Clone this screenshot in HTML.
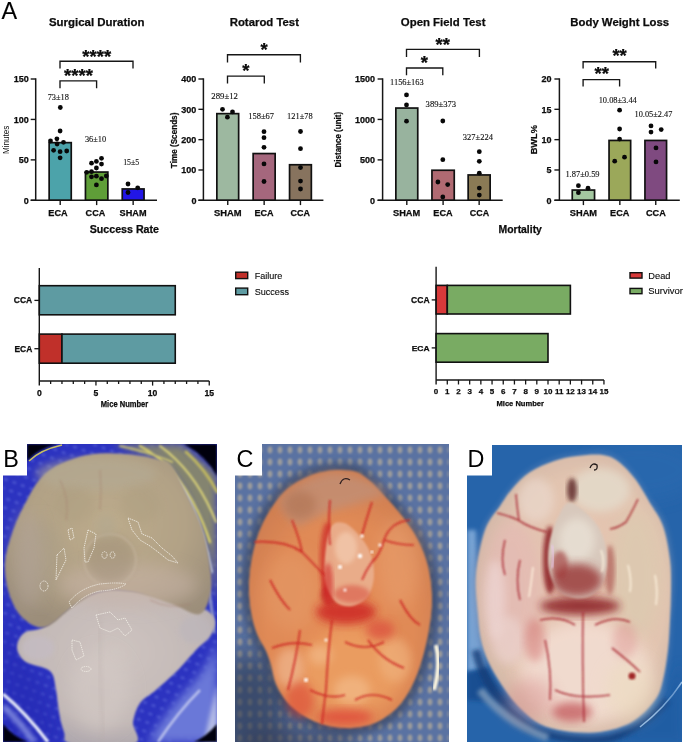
<!DOCTYPE html><html><head><meta charset="utf-8"><style>html,body{margin:0;padding:0;background:#fff;overflow:hidden}svg{display:block}</style></head><body>
<svg width="685" height="745" viewBox="0 0 685 745" style="opacity:0.999">
<rect width="685" height="745" fill="#fff"/>
<text x="1.40" y="18.80" font-size="23.4" font-weight="normal" text-anchor="start" font-family='"Liberation Sans", sans-serif' fill="#000" stroke="#000" stroke-width="0.12" >A</text>
<line x1="35.70" y1="78.30" x2="35.70" y2="200.30" stroke="#161616" stroke-width="1.5"/>
<line x1="30.70" y1="200.30" x2="157.00" y2="200.30" stroke="#161616" stroke-width="1.5"/>
<line x1="30.70" y1="200.30" x2="35.70" y2="200.30" stroke="#161616" stroke-width="1.4"/>
<text x="28.80" y="203.70" font-size="9" font-weight="bold" text-anchor="end" font-family='"Liberation Sans", sans-serif' fill="#0c0c0c" stroke="#0c0c0c" stroke-width="0.25" >0</text>
<line x1="30.70" y1="159.87" x2="35.70" y2="159.87" stroke="#161616" stroke-width="1.4"/>
<text x="28.80" y="163.27" font-size="9" font-weight="bold" text-anchor="end" font-family='"Liberation Sans", sans-serif' fill="#0c0c0c" stroke="#0c0c0c" stroke-width="0.25" >50</text>
<line x1="30.70" y1="119.43" x2="35.70" y2="119.43" stroke="#161616" stroke-width="1.4"/>
<text x="28.80" y="122.83" font-size="9" font-weight="bold" text-anchor="end" font-family='"Liberation Sans", sans-serif' fill="#0c0c0c" stroke="#0c0c0c" stroke-width="0.25" >100</text>
<line x1="30.70" y1="79.00" x2="35.70" y2="79.00" stroke="#161616" stroke-width="1.4"/>
<text x="28.80" y="82.40" font-size="9" font-weight="bold" text-anchor="end" font-family='"Liberation Sans", sans-serif' fill="#0c0c0c" stroke="#0c0c0c" stroke-width="0.25" >150</text>
<rect x="49.15" y="142.65" width="22.10" height="57.50" fill="#4ca3aa" stroke="#111" stroke-width="1.7"/>
<line x1="60.20" y1="200.30" x2="60.20" y2="205.10" stroke="#161616" stroke-width="1.4"/>
<rect x="85.45" y="172.05" width="22.40" height="28.10" fill="#5f9e38" stroke="#111" stroke-width="1.7"/>
<line x1="96.65" y1="200.30" x2="96.65" y2="205.10" stroke="#161616" stroke-width="1.4"/>
<rect x="122.25" y="188.95" width="21.80" height="11.20" fill="#2216e6" stroke="#111" stroke-width="1.7"/>
<line x1="133.15" y1="200.30" x2="133.15" y2="205.10" stroke="#161616" stroke-width="1.4"/>
<text x="48.30" y="215.80" font-size="9" font-weight="bold" text-anchor="start" font-family='"Liberation Sans", sans-serif' fill="#0c0c0c" stroke="#0c0c0c" stroke-width="0.25" textLength="19.30" lengthAdjust="spacingAndGlyphs" >ECA</text>
<text x="85.60" y="215.80" font-size="9" font-weight="bold" text-anchor="start" font-family='"Liberation Sans", sans-serif' fill="#0c0c0c" stroke="#0c0c0c" stroke-width="0.25" textLength="19.60" lengthAdjust="spacingAndGlyphs" >CCA</text>
<text x="119.60" y="215.80" font-size="9" font-weight="bold" text-anchor="start" font-family='"Liberation Sans", sans-serif' fill="#0c0c0c" stroke="#0c0c0c" stroke-width="0.25" textLength="26.90" lengthAdjust="spacingAndGlyphs" >SHAM</text>
<circle cx="60.30" cy="107.50" r="2.4" fill="#080808"/>
<circle cx="60.10" cy="131.00" r="2.4" fill="#080808"/>
<circle cx="56.90" cy="138.80" r="2.4" fill="#080808"/>
<circle cx="50.50" cy="141.00" r="2.4" fill="#080808"/>
<circle cx="57.10" cy="144.00" r="2.4" fill="#080808"/>
<circle cx="63.50" cy="142.30" r="2.4" fill="#080808"/>
<circle cx="53.60" cy="150.30" r="2.4" fill="#080808"/>
<circle cx="60.10" cy="151.70" r="2.4" fill="#080808"/>
<circle cx="66.70" cy="151.00" r="2.4" fill="#080808"/>
<circle cx="60.10" cy="157.80" r="2.4" fill="#080808"/>
<circle cx="101.50" cy="158.30" r="2.4" fill="#080808"/>
<circle cx="96.40" cy="161.40" r="2.4" fill="#080808"/>
<circle cx="91.50" cy="163.20" r="2.4" fill="#080808"/>
<circle cx="101.50" cy="164.10" r="2.4" fill="#080808"/>
<circle cx="96.40" cy="168.00" r="2.4" fill="#080808"/>
<circle cx="86.70" cy="172.30" r="2.4" fill="#080808"/>
<circle cx="91.50" cy="171.70" r="2.4" fill="#080808"/>
<circle cx="91.50" cy="176.80" r="2.4" fill="#080808"/>
<circle cx="96.40" cy="176.20" r="2.4" fill="#080808"/>
<circle cx="101.50" cy="178.70" r="2.4" fill="#080808"/>
<circle cx="106.30" cy="176.00" r="2.4" fill="#080808"/>
<circle cx="96.40" cy="184.90" r="2.4" fill="#080808"/>
<circle cx="128.00" cy="184.00" r="2.4" fill="#080808"/>
<circle cx="137.70" cy="187.80" r="2.4" fill="#080808"/>
<circle cx="128.00" cy="192.50" r="2.4" fill="#080808"/>
<text x="47.70" y="100.20" font-size="8.3" font-weight="normal" text-anchor="start" font-family='"Liberation Serif", serif' fill="#111" stroke="#111" stroke-width="0.12" textLength="21.20" lengthAdjust="spacingAndGlyphs" >73±18</text>
<text x="84.90" y="141.90" font-size="8.3" font-weight="normal" text-anchor="start" font-family='"Liberation Serif", serif' fill="#111" stroke="#111" stroke-width="0.12" textLength="21.30" lengthAdjust="spacingAndGlyphs" >36±10</text>
<text x="123.20" y="164.70" font-size="8.3" font-weight="normal" text-anchor="start" font-family='"Liberation Serif", serif' fill="#111" stroke="#111" stroke-width="0.12" textLength="16.00" lengthAdjust="spacingAndGlyphs" >15±5</text>
<text x="48.90" y="25.90" font-size="11.6" font-weight="bold" text-anchor="start" font-family='"Liberation Sans", sans-serif' fill="#0c0c0c" stroke="#0c0c0c" stroke-width="0.25" textLength="95.50" lengthAdjust="spacingAndGlyphs" >Surgical Duration</text>
<text transform="translate(9.20,139.90) rotate(-90)" font-size="9.0" font-weight="normal" text-anchor="middle" font-family='"Liberation Sans", sans-serif' fill="#0c0c0c"  textLength="28.40" lengthAdjust="spacingAndGlyphs">Minutes</text>
<path d="M60.00 88.20 V80.90 H96.60 V88.20" fill="none" stroke="#161616" stroke-width="1.35"/>
<text x="78.45" y="82.24" font-size="18.5" font-weight="bold" text-anchor="middle" font-family='"Liberation Sans", sans-serif' fill="#0c0c0c" stroke="#0c0c0c" stroke-width="0.25" >****</text>
<path d="M60.00 68.50 V61.20 H133.00 V68.50" fill="none" stroke="#161616" stroke-width="1.35"/>
<text x="96.70" y="62.54" font-size="18.5" font-weight="bold" text-anchor="middle" font-family='"Liberation Sans", sans-serif' fill="#0c0c0c" stroke="#0c0c0c" stroke-width="0.25" >****</text>
<line x1="203.40" y1="78.30" x2="203.40" y2="200.30" stroke="#161616" stroke-width="1.5"/>
<line x1="198.40" y1="200.30" x2="323.40" y2="200.30" stroke="#161616" stroke-width="1.5"/>
<line x1="198.40" y1="200.30" x2="203.40" y2="200.30" stroke="#161616" stroke-width="1.4"/>
<text x="196.40" y="203.70" font-size="9" font-weight="bold" text-anchor="end" font-family='"Liberation Sans", sans-serif' fill="#0c0c0c" stroke="#0c0c0c" stroke-width="0.25" >0</text>
<line x1="198.40" y1="169.98" x2="203.40" y2="169.98" stroke="#161616" stroke-width="1.4"/>
<text x="196.40" y="173.38" font-size="9" font-weight="bold" text-anchor="end" font-family='"Liberation Sans", sans-serif' fill="#0c0c0c" stroke="#0c0c0c" stroke-width="0.25" >100</text>
<line x1="198.40" y1="139.65" x2="203.40" y2="139.65" stroke="#161616" stroke-width="1.4"/>
<text x="196.40" y="143.05" font-size="9" font-weight="bold" text-anchor="end" font-family='"Liberation Sans", sans-serif' fill="#0c0c0c" stroke="#0c0c0c" stroke-width="0.25" >200</text>
<line x1="198.40" y1="109.33" x2="203.40" y2="109.33" stroke="#161616" stroke-width="1.4"/>
<text x="196.40" y="112.73" font-size="9" font-weight="bold" text-anchor="end" font-family='"Liberation Sans", sans-serif' fill="#0c0c0c" stroke="#0c0c0c" stroke-width="0.25" >300</text>
<line x1="198.40" y1="79.00" x2="203.40" y2="79.00" stroke="#161616" stroke-width="1.4"/>
<text x="196.40" y="82.40" font-size="9" font-weight="bold" text-anchor="end" font-family='"Liberation Sans", sans-serif' fill="#0c0c0c" stroke="#0c0c0c" stroke-width="0.25" >400</text>
<rect x="216.85" y="113.65" width="21.80" height="86.50" fill="#9db8a0" stroke="#111" stroke-width="1.7"/>
<line x1="227.75" y1="200.30" x2="227.75" y2="205.10" stroke="#161616" stroke-width="1.4"/>
<rect x="253.15" y="153.55" width="22.00" height="46.60" fill="#a5677d" stroke="#111" stroke-width="1.7"/>
<line x1="264.15" y1="200.30" x2="264.15" y2="205.10" stroke="#161616" stroke-width="1.4"/>
<rect x="289.55" y="164.75" width="21.80" height="35.40" fill="#87735e" stroke="#111" stroke-width="1.7"/>
<line x1="300.45" y1="200.30" x2="300.45" y2="205.10" stroke="#161616" stroke-width="1.4"/>
<text x="213.90" y="215.80" font-size="9" font-weight="bold" text-anchor="start" font-family='"Liberation Sans", sans-serif' fill="#0c0c0c" stroke="#0c0c0c" stroke-width="0.25" textLength="27.60" lengthAdjust="spacingAndGlyphs" >SHAM</text>
<text x="254.40" y="215.80" font-size="9" font-weight="bold" text-anchor="start" font-family='"Liberation Sans", sans-serif' fill="#0c0c0c" stroke="#0c0c0c" stroke-width="0.25" textLength="19.10" lengthAdjust="spacingAndGlyphs" >ECA</text>
<text x="290.60" y="215.80" font-size="9" font-weight="bold" text-anchor="start" font-family='"Liberation Sans", sans-serif' fill="#0c0c0c" stroke="#0c0c0c" stroke-width="0.25" textLength="19.40" lengthAdjust="spacingAndGlyphs" >CCA</text>
<circle cx="222.50" cy="109.30" r="2.4" fill="#080808"/>
<circle cx="232.50" cy="111.90" r="2.4" fill="#080808"/>
<circle cx="227.40" cy="117.20" r="2.4" fill="#080808"/>
<circle cx="264.00" cy="131.70" r="2.4" fill="#080808"/>
<circle cx="264.00" cy="137.70" r="2.4" fill="#080808"/>
<circle cx="264.00" cy="147.30" r="2.4" fill="#080808"/>
<circle cx="264.00" cy="163.90" r="2.4" fill="#080808"/>
<circle cx="264.00" cy="181.50" r="2.4" fill="#080808"/>
<circle cx="300.50" cy="131.50" r="2.4" fill="#080808"/>
<circle cx="300.50" cy="148.70" r="2.4" fill="#080808"/>
<circle cx="300.50" cy="167.60" r="2.4" fill="#080808"/>
<circle cx="300.50" cy="181.10" r="2.4" fill="#080808"/>
<circle cx="300.50" cy="189.00" r="2.4" fill="#080808"/>
<text x="211.30" y="98.80" font-size="8.3" font-weight="normal" text-anchor="start" font-family='"Liberation Serif", serif' fill="#111" stroke="#111" stroke-width="0.12" textLength="26.70" lengthAdjust="spacingAndGlyphs" >289±12</text>
<text x="248.20" y="118.90" font-size="8.3" font-weight="normal" text-anchor="start" font-family='"Liberation Serif", serif' fill="#111" stroke="#111" stroke-width="0.12" textLength="25.90" lengthAdjust="spacingAndGlyphs" >158±67</text>
<text x="287.10" y="118.90" font-size="8.3" font-weight="normal" text-anchor="start" font-family='"Liberation Serif", serif' fill="#111" stroke="#111" stroke-width="0.12" textLength="25.50" lengthAdjust="spacingAndGlyphs" >121±78</text>
<text x="229.70" y="25.90" font-size="11.6" font-weight="bold" text-anchor="start" font-family='"Liberation Sans", sans-serif' fill="#0c0c0c" stroke="#0c0c0c" stroke-width="0.25" textLength="69.30" lengthAdjust="spacingAndGlyphs" >Rotarod Test</text>
<text transform="translate(177.20,140.40) rotate(-90)" font-size="8.6" font-weight="bold" text-anchor="middle" font-family='"Liberation Sans", sans-serif' fill="#0c0c0c" stroke="#0c0c0c" stroke-width="0.22" textLength="55.50" lengthAdjust="spacingAndGlyphs">Time (Scends)</text>
<path d="M227.50 83.60 V76.10 H264.30 V83.60" fill="none" stroke="#161616" stroke-width="1.35"/>
<text x="245.90" y="77.24" font-size="18.5" font-weight="bold" text-anchor="middle" font-family='"Liberation Sans", sans-serif' fill="#0c0c0c" stroke="#0c0c0c" stroke-width="0.25" >*</text>
<path d="M227.50 62.60 V54.70 H300.40 V62.60" fill="none" stroke="#161616" stroke-width="1.35"/>
<text x="264.10" y="56.14" font-size="18.5" font-weight="bold" text-anchor="middle" font-family='"Liberation Sans", sans-serif' fill="#0c0c0c" stroke="#0c0c0c" stroke-width="0.25" >*</text>
<line x1="382.60" y1="78.30" x2="382.60" y2="200.30" stroke="#161616" stroke-width="1.5"/>
<line x1="377.60" y1="200.30" x2="502.70" y2="200.30" stroke="#161616" stroke-width="1.5"/>
<line x1="377.60" y1="200.30" x2="382.60" y2="200.30" stroke="#161616" stroke-width="1.4"/>
<text x="375.00" y="203.70" font-size="9" font-weight="bold" text-anchor="end" font-family='"Liberation Sans", sans-serif' fill="#0c0c0c" stroke="#0c0c0c" stroke-width="0.25" >0</text>
<line x1="377.60" y1="159.87" x2="382.60" y2="159.87" stroke="#161616" stroke-width="1.4"/>
<text x="375.00" y="163.27" font-size="9" font-weight="bold" text-anchor="end" font-family='"Liberation Sans", sans-serif' fill="#0c0c0c" stroke="#0c0c0c" stroke-width="0.25" >500</text>
<line x1="377.60" y1="119.43" x2="382.60" y2="119.43" stroke="#161616" stroke-width="1.4"/>
<text x="375.00" y="122.83" font-size="9" font-weight="bold" text-anchor="end" font-family='"Liberation Sans", sans-serif' fill="#0c0c0c" stroke="#0c0c0c" stroke-width="0.25" >1000</text>
<line x1="377.60" y1="79.00" x2="382.60" y2="79.00" stroke="#161616" stroke-width="1.4"/>
<text x="375.00" y="82.40" font-size="9" font-weight="bold" text-anchor="end" font-family='"Liberation Sans", sans-serif' fill="#0c0c0c" stroke="#0c0c0c" stroke-width="0.25" >1500</text>
<rect x="395.85" y="108.05" width="21.90" height="92.10" fill="#98b39e" stroke="#111" stroke-width="1.7"/>
<line x1="406.80" y1="200.30" x2="406.80" y2="205.10" stroke="#161616" stroke-width="1.4"/>
<rect x="431.95" y="170.25" width="22.30" height="29.90" fill="#b06a72" stroke="#111" stroke-width="1.7"/>
<line x1="443.10" y1="200.30" x2="443.10" y2="205.10" stroke="#161616" stroke-width="1.4"/>
<rect x="468.15" y="174.95" width="22.00" height="25.20" fill="#8a7a55" stroke="#111" stroke-width="1.7"/>
<line x1="479.15" y1="200.30" x2="479.15" y2="205.10" stroke="#161616" stroke-width="1.4"/>
<text x="393.00" y="215.80" font-size="9" font-weight="bold" text-anchor="start" font-family='"Liberation Sans", sans-serif' fill="#0c0c0c" stroke="#0c0c0c" stroke-width="0.25" textLength="27.20" lengthAdjust="spacingAndGlyphs" >SHAM</text>
<text x="433.30" y="215.80" font-size="9" font-weight="bold" text-anchor="start" font-family='"Liberation Sans", sans-serif' fill="#0c0c0c" stroke="#0c0c0c" stroke-width="0.25" textLength="19.30" lengthAdjust="spacingAndGlyphs" >ECA</text>
<text x="469.80" y="215.80" font-size="9" font-weight="bold" text-anchor="start" font-family='"Liberation Sans", sans-serif' fill="#0c0c0c" stroke="#0c0c0c" stroke-width="0.25" textLength="19.30" lengthAdjust="spacingAndGlyphs" >CCA</text>
<circle cx="406.50" cy="94.90" r="2.4" fill="#080808"/>
<circle cx="406.50" cy="104.90" r="2.4" fill="#080808"/>
<circle cx="406.50" cy="121.20" r="2.4" fill="#080808"/>
<circle cx="442.80" cy="121.00" r="2.4" fill="#080808"/>
<circle cx="442.80" cy="159.70" r="2.4" fill="#080808"/>
<circle cx="437.90" cy="182.00" r="2.4" fill="#080808"/>
<circle cx="447.70" cy="184.60" r="2.4" fill="#080808"/>
<circle cx="442.80" cy="196.90" r="2.4" fill="#080808"/>
<circle cx="479.30" cy="151.70" r="2.4" fill="#080808"/>
<circle cx="479.30" cy="161.30" r="2.4" fill="#080808"/>
<circle cx="479.30" cy="173.20" r="2.4" fill="#080808"/>
<circle cx="479.30" cy="188.10" r="2.4" fill="#080808"/>
<circle cx="479.30" cy="195.10" r="2.4" fill="#080808"/>
<text x="390.10" y="85.10" font-size="8.3" font-weight="normal" text-anchor="start" font-family='"Liberation Serif", serif' fill="#111" stroke="#111" stroke-width="0.12" textLength="33.60" lengthAdjust="spacingAndGlyphs" >1156±163</text>
<text x="425.60" y="106.60" font-size="8.3" font-weight="normal" text-anchor="start" font-family='"Liberation Serif", serif' fill="#111" stroke="#111" stroke-width="0.12" textLength="30.60" lengthAdjust="spacingAndGlyphs" >389±373</text>
<text x="462.80" y="140.30" font-size="8.3" font-weight="normal" text-anchor="start" font-family='"Liberation Serif", serif' fill="#111" stroke="#111" stroke-width="0.12" textLength="30.10" lengthAdjust="spacingAndGlyphs" >327±224</text>
<text x="400.80" y="25.90" font-size="11.6" font-weight="bold" text-anchor="start" font-family='"Liberation Sans", sans-serif' fill="#0c0c0c" stroke="#0c0c0c" stroke-width="0.25" textLength="84.70" lengthAdjust="spacingAndGlyphs" >Open Field Test</text>
<text transform="translate(340.90,139.70) rotate(-90)" font-size="8.9" font-weight="bold" text-anchor="middle" font-family='"Liberation Sans", sans-serif' fill="#0c0c0c" stroke="#0c0c0c" stroke-width="0.22" textLength="55.60" lengthAdjust="spacingAndGlyphs">Distance (unit)</text>
<path d="M406.50 75.30 V68.00 H442.80 V75.30" fill="none" stroke="#161616" stroke-width="1.35"/>
<text x="424.30" y="69.04" font-size="18.5" font-weight="bold" text-anchor="middle" font-family='"Liberation Sans", sans-serif' fill="#0c0c0c" stroke="#0c0c0c" stroke-width="0.25" >*</text>
<path d="M406.50 57.00 V49.40 H479.40 V57.00" fill="none" stroke="#161616" stroke-width="1.35"/>
<text x="442.80" y="50.94" font-size="18.5" font-weight="bold" text-anchor="middle" font-family='"Liberation Sans", sans-serif' fill="#0c0c0c" stroke="#0c0c0c" stroke-width="0.25" >**</text>
<line x1="559.40" y1="78.30" x2="559.40" y2="200.30" stroke="#161616" stroke-width="1.5"/>
<line x1="554.40" y1="200.30" x2="679.80" y2="200.30" stroke="#161616" stroke-width="1.5"/>
<line x1="554.40" y1="200.30" x2="559.40" y2="200.30" stroke="#161616" stroke-width="1.4"/>
<text x="551.60" y="203.70" font-size="9" font-weight="bold" text-anchor="end" font-family='"Liberation Sans", sans-serif' fill="#0c0c0c" stroke="#0c0c0c" stroke-width="0.25" >0</text>
<line x1="554.40" y1="169.98" x2="559.40" y2="169.98" stroke="#161616" stroke-width="1.4"/>
<text x="551.60" y="173.38" font-size="9" font-weight="bold" text-anchor="end" font-family='"Liberation Sans", sans-serif' fill="#0c0c0c" stroke="#0c0c0c" stroke-width="0.25" >5</text>
<line x1="554.40" y1="139.65" x2="559.40" y2="139.65" stroke="#161616" stroke-width="1.4"/>
<text x="551.60" y="143.05" font-size="9" font-weight="bold" text-anchor="end" font-family='"Liberation Sans", sans-serif' fill="#0c0c0c" stroke="#0c0c0c" stroke-width="0.25" >10</text>
<line x1="554.40" y1="109.33" x2="559.40" y2="109.33" stroke="#161616" stroke-width="1.4"/>
<text x="551.60" y="112.73" font-size="9" font-weight="bold" text-anchor="end" font-family='"Liberation Sans", sans-serif' fill="#0c0c0c" stroke="#0c0c0c" stroke-width="0.25" >15</text>
<line x1="554.40" y1="79.00" x2="559.40" y2="79.00" stroke="#161616" stroke-width="1.4"/>
<text x="551.60" y="82.40" font-size="9" font-weight="bold" text-anchor="end" font-family='"Liberation Sans", sans-serif' fill="#0c0c0c" stroke="#0c0c0c" stroke-width="0.25" >20</text>
<rect x="572.25" y="190.05" width="22.30" height="10.10" fill="#a3c7a0" stroke="#111" stroke-width="1.7"/>
<line x1="583.40" y1="200.30" x2="583.40" y2="205.10" stroke="#161616" stroke-width="1.4"/>
<rect x="609.05" y="140.45" width="21.60" height="59.70" fill="#9ba85a" stroke="#111" stroke-width="1.7"/>
<line x1="619.85" y1="200.30" x2="619.85" y2="205.10" stroke="#161616" stroke-width="1.4"/>
<rect x="644.95" y="140.45" width="21.60" height="59.70" fill="#7f4a80" stroke="#111" stroke-width="1.7"/>
<line x1="655.75" y1="200.30" x2="655.75" y2="205.10" stroke="#161616" stroke-width="1.4"/>
<text x="569.80" y="215.80" font-size="9" font-weight="bold" text-anchor="start" font-family='"Liberation Sans", sans-serif' fill="#0c0c0c" stroke="#0c0c0c" stroke-width="0.25" textLength="27.20" lengthAdjust="spacingAndGlyphs" >SHAM</text>
<text x="610.10" y="215.80" font-size="9" font-weight="bold" text-anchor="start" font-family='"Liberation Sans", sans-serif' fill="#0c0c0c" stroke="#0c0c0c" stroke-width="0.25" textLength="19.30" lengthAdjust="spacingAndGlyphs" >ECA</text>
<text x="646.00" y="215.80" font-size="9" font-weight="bold" text-anchor="start" font-family='"Liberation Sans", sans-serif' fill="#0c0c0c" stroke="#0c0c0c" stroke-width="0.25" textLength="19.80" lengthAdjust="spacingAndGlyphs" >CCA</text>
<circle cx="578.40" cy="185.70" r="2.4" fill="#080808"/>
<circle cx="588.00" cy="188.20" r="2.4" fill="#080808"/>
<circle cx="578.40" cy="192.70" r="2.4" fill="#080808"/>
<circle cx="619.60" cy="110.20" r="2.4" fill="#080808"/>
<circle cx="619.60" cy="129.00" r="2.4" fill="#080808"/>
<circle cx="619.60" cy="139.10" r="2.4" fill="#080808"/>
<circle cx="614.70" cy="161.20" r="2.4" fill="#080808"/>
<circle cx="624.50" cy="157.20" r="2.4" fill="#080808"/>
<circle cx="651.00" cy="125.90" r="2.4" fill="#080808"/>
<circle cx="661.20" cy="129.60" r="2.4" fill="#080808"/>
<circle cx="651.00" cy="132.10" r="2.4" fill="#080808"/>
<circle cx="656.00" cy="147.90" r="2.4" fill="#080808"/>
<circle cx="656.00" cy="161.90" r="2.4" fill="#080808"/>
<text x="565.40" y="177.00" font-size="8.3" font-weight="normal" text-anchor="start" font-family='"Liberation Serif", serif' fill="#111" stroke="#111" stroke-width="0.12" textLength="34.20" lengthAdjust="spacingAndGlyphs" >1.87±0.59</text>
<text x="598.70" y="102.50" font-size="8.3" font-weight="normal" text-anchor="start" font-family='"Liberation Serif", serif' fill="#111" stroke="#111" stroke-width="0.12" textLength="38.10" lengthAdjust="spacingAndGlyphs" >10.08±3.44</text>
<text x="634.50" y="116.90" font-size="8.3" font-weight="normal" text-anchor="start" font-family='"Liberation Serif", serif' fill="#111" stroke="#111" stroke-width="0.12" textLength="37.80" lengthAdjust="spacingAndGlyphs" >10.05±2.47</text>
<text x="570.30" y="25.90" font-size="11.6" font-weight="bold" text-anchor="start" font-family='"Liberation Sans", sans-serif' fill="#0c0c0c" stroke="#0c0c0c" stroke-width="0.25" textLength="98.90" lengthAdjust="spacingAndGlyphs" >Body Weight Loss</text>
<text transform="translate(537.00,139.70) rotate(-90)" font-size="9.4" font-weight="bold" text-anchor="middle" font-family='"Liberation Sans", sans-serif' fill="#0c0c0c" stroke="#0c0c0c" stroke-width="0.22" textLength="29.30" lengthAdjust="spacingAndGlyphs">BWL%</text>
<path d="M583.10 86.40 V79.60 H619.60 V86.40" fill="none" stroke="#161616" stroke-width="1.35"/>
<text x="601.70" y="79.94" font-size="18.5" font-weight="bold" text-anchor="middle" font-family='"Liberation Sans", sans-serif' fill="#0c0c0c" stroke="#0c0c0c" stroke-width="0.25" >**</text>
<path d="M583.10 68.50 V61.70 H655.70 V68.50" fill="none" stroke="#161616" stroke-width="1.35"/>
<text x="619.60" y="61.94" font-size="18.5" font-weight="bold" text-anchor="middle" font-family='"Liberation Sans", sans-serif' fill="#0c0c0c" stroke="#0c0c0c" stroke-width="0.25" >**</text>
<line x1="39.30" y1="268.00" x2="39.30" y2="385.60" stroke="#161616" stroke-width="1.4"/>
<line x1="39.30" y1="381.00" x2="209.25" y2="381.00" stroke="#161616" stroke-width="1.5"/>
<text x="39.30" y="395.80" font-size="8.6" font-weight="bold" text-anchor="middle" font-family='"Liberation Sans", sans-serif' fill="#0c0c0c" stroke="#0c0c0c" stroke-width="0.25" >0</text>
<line x1="50.63" y1="381.00" x2="50.63" y2="384.00" stroke="#161616" stroke-width="1.3"/>
<line x1="61.96" y1="381.00" x2="61.96" y2="384.00" stroke="#161616" stroke-width="1.3"/>
<line x1="73.29" y1="381.00" x2="73.29" y2="384.00" stroke="#161616" stroke-width="1.3"/>
<line x1="84.62" y1="381.00" x2="84.62" y2="384.00" stroke="#161616" stroke-width="1.3"/>
<line x1="95.95" y1="381.00" x2="95.95" y2="385.60" stroke="#161616" stroke-width="1.3"/>
<text x="95.95" y="395.80" font-size="8.6" font-weight="bold" text-anchor="middle" font-family='"Liberation Sans", sans-serif' fill="#0c0c0c" stroke="#0c0c0c" stroke-width="0.25" >5</text>
<line x1="107.28" y1="381.00" x2="107.28" y2="384.00" stroke="#161616" stroke-width="1.3"/>
<line x1="118.61" y1="381.00" x2="118.61" y2="384.00" stroke="#161616" stroke-width="1.3"/>
<line x1="129.94" y1="381.00" x2="129.94" y2="384.00" stroke="#161616" stroke-width="1.3"/>
<line x1="141.27" y1="381.00" x2="141.27" y2="384.00" stroke="#161616" stroke-width="1.3"/>
<line x1="152.60" y1="381.00" x2="152.60" y2="385.60" stroke="#161616" stroke-width="1.3"/>
<text x="152.60" y="395.80" font-size="8.6" font-weight="bold" text-anchor="middle" font-family='"Liberation Sans", sans-serif' fill="#0c0c0c" stroke="#0c0c0c" stroke-width="0.25" >10</text>
<line x1="163.93" y1="381.00" x2="163.93" y2="384.00" stroke="#161616" stroke-width="1.3"/>
<line x1="175.26" y1="381.00" x2="175.26" y2="384.00" stroke="#161616" stroke-width="1.3"/>
<line x1="186.59" y1="381.00" x2="186.59" y2="384.00" stroke="#161616" stroke-width="1.3"/>
<line x1="197.92" y1="381.00" x2="197.92" y2="384.00" stroke="#161616" stroke-width="1.3"/>
<line x1="209.25" y1="381.00" x2="209.25" y2="385.60" stroke="#161616" stroke-width="1.3"/>
<text x="209.25" y="395.80" font-size="8.6" font-weight="bold" text-anchor="middle" font-family='"Liberation Sans", sans-serif' fill="#0c0c0c" stroke="#0c0c0c" stroke-width="0.25" >15</text>
<rect x="39.30" y="285.70" width="135.96" height="29.10" fill="#5e9ba2" stroke="#111" stroke-width="1.6"/>
<rect x="39.30" y="334.10" width="22.66" height="29.10" fill="#c0302a" stroke="#111" stroke-width="1.6"/>
<rect x="61.96" y="334.10" width="113.30" height="29.10" fill="#5e9ba2" stroke="#111" stroke-width="1.6"/>
<line x1="34.40" y1="300.40" x2="39.30" y2="300.40" stroke="#161616" stroke-width="1.3"/>
<text x="13.80" y="303.40" font-size="8.367626886145404" font-weight="bold" text-anchor="start" font-family='"Liberation Sans", sans-serif' fill="#0c0c0c" stroke="#0c0c0c" stroke-width="0.25" textLength="18.50" lengthAdjust="spacingAndGlyphs" >CCA</text>
<line x1="34.40" y1="348.70" x2="39.30" y2="348.70" stroke="#161616" stroke-width="1.3"/>
<text x="14.40" y="351.90" font-size="8.367626886145404" font-weight="bold" text-anchor="start" font-family='"Liberation Sans", sans-serif' fill="#0c0c0c" stroke="#0c0c0c" stroke-width="0.25" textLength="17.90" lengthAdjust="spacingAndGlyphs" >ECA</text>
<text x="89.70" y="232.90" font-size="10.219478737997257" font-weight="bold" text-anchor="start" font-family='"Liberation Sans", sans-serif' fill="#0c0c0c" stroke="#0c0c0c" stroke-width="0.25" textLength="69.30" lengthAdjust="spacingAndGlyphs" >Success Rate</text>
<text x="100.80" y="406.80" font-size="8.23045267489712" font-weight="bold" text-anchor="start" font-family='"Liberation Sans", sans-serif' fill="#0c0c0c" stroke="#0c0c0c" stroke-width="0.25" textLength="47.40" lengthAdjust="spacingAndGlyphs" >Mice Number</text>
<line x1="436.10" y1="266.70" x2="436.10" y2="384.50" stroke="#161616" stroke-width="1.4"/>
<line x1="436.10" y1="379.90" x2="603.95" y2="379.90" stroke="#161616" stroke-width="1.5"/>
<text x="436.10" y="394.40" font-size="8.0" font-weight="bold" text-anchor="middle" font-family='"Liberation Sans", sans-serif' fill="#0c0c0c" stroke="#0c0c0c" stroke-width="0.25" >0</text>
<line x1="447.29" y1="379.90" x2="447.29" y2="384.50" stroke="#161616" stroke-width="1.3"/>
<text x="447.29" y="394.40" font-size="8.0" font-weight="bold" text-anchor="middle" font-family='"Liberation Sans", sans-serif' fill="#0c0c0c" stroke="#0c0c0c" stroke-width="0.25" >1</text>
<line x1="458.48" y1="379.90" x2="458.48" y2="384.50" stroke="#161616" stroke-width="1.3"/>
<text x="458.48" y="394.40" font-size="8.0" font-weight="bold" text-anchor="middle" font-family='"Liberation Sans", sans-serif' fill="#0c0c0c" stroke="#0c0c0c" stroke-width="0.25" >2</text>
<line x1="469.67" y1="379.90" x2="469.67" y2="384.50" stroke="#161616" stroke-width="1.3"/>
<text x="469.67" y="394.40" font-size="8.0" font-weight="bold" text-anchor="middle" font-family='"Liberation Sans", sans-serif' fill="#0c0c0c" stroke="#0c0c0c" stroke-width="0.25" >3</text>
<line x1="480.86" y1="379.90" x2="480.86" y2="384.50" stroke="#161616" stroke-width="1.3"/>
<text x="480.86" y="394.40" font-size="8.0" font-weight="bold" text-anchor="middle" font-family='"Liberation Sans", sans-serif' fill="#0c0c0c" stroke="#0c0c0c" stroke-width="0.25" >4</text>
<line x1="492.05" y1="379.90" x2="492.05" y2="384.50" stroke="#161616" stroke-width="1.3"/>
<text x="492.05" y="394.40" font-size="8.0" font-weight="bold" text-anchor="middle" font-family='"Liberation Sans", sans-serif' fill="#0c0c0c" stroke="#0c0c0c" stroke-width="0.25" >5</text>
<line x1="503.24" y1="379.90" x2="503.24" y2="384.50" stroke="#161616" stroke-width="1.3"/>
<text x="503.24" y="394.40" font-size="8.0" font-weight="bold" text-anchor="middle" font-family='"Liberation Sans", sans-serif' fill="#0c0c0c" stroke="#0c0c0c" stroke-width="0.25" >6</text>
<line x1="514.43" y1="379.90" x2="514.43" y2="384.50" stroke="#161616" stroke-width="1.3"/>
<text x="514.43" y="394.40" font-size="8.0" font-weight="bold" text-anchor="middle" font-family='"Liberation Sans", sans-serif' fill="#0c0c0c" stroke="#0c0c0c" stroke-width="0.25" >7</text>
<line x1="525.62" y1="379.90" x2="525.62" y2="384.50" stroke="#161616" stroke-width="1.3"/>
<text x="525.62" y="394.40" font-size="8.0" font-weight="bold" text-anchor="middle" font-family='"Liberation Sans", sans-serif' fill="#0c0c0c" stroke="#0c0c0c" stroke-width="0.25" >8</text>
<line x1="536.81" y1="379.90" x2="536.81" y2="384.50" stroke="#161616" stroke-width="1.3"/>
<text x="536.81" y="394.40" font-size="8.0" font-weight="bold" text-anchor="middle" font-family='"Liberation Sans", sans-serif' fill="#0c0c0c" stroke="#0c0c0c" stroke-width="0.25" >9</text>
<line x1="548.00" y1="379.90" x2="548.00" y2="384.50" stroke="#161616" stroke-width="1.3"/>
<text x="548.00" y="394.40" font-size="8.0" font-weight="bold" text-anchor="middle" font-family='"Liberation Sans", sans-serif' fill="#0c0c0c" stroke="#0c0c0c" stroke-width="0.25" >10</text>
<line x1="559.19" y1="379.90" x2="559.19" y2="384.50" stroke="#161616" stroke-width="1.3"/>
<text x="559.19" y="394.40" font-size="8.0" font-weight="bold" text-anchor="middle" font-family='"Liberation Sans", sans-serif' fill="#0c0c0c" stroke="#0c0c0c" stroke-width="0.25" >11</text>
<line x1="570.38" y1="379.90" x2="570.38" y2="384.50" stroke="#161616" stroke-width="1.3"/>
<text x="570.38" y="394.40" font-size="8.0" font-weight="bold" text-anchor="middle" font-family='"Liberation Sans", sans-serif' fill="#0c0c0c" stroke="#0c0c0c" stroke-width="0.25" >12</text>
<line x1="581.57" y1="379.90" x2="581.57" y2="384.50" stroke="#161616" stroke-width="1.3"/>
<text x="581.57" y="394.40" font-size="8.0" font-weight="bold" text-anchor="middle" font-family='"Liberation Sans", sans-serif' fill="#0c0c0c" stroke="#0c0c0c" stroke-width="0.25" >13</text>
<line x1="592.76" y1="379.90" x2="592.76" y2="384.50" stroke="#161616" stroke-width="1.3"/>
<text x="592.76" y="394.40" font-size="8.0" font-weight="bold" text-anchor="middle" font-family='"Liberation Sans", sans-serif' fill="#0c0c0c" stroke="#0c0c0c" stroke-width="0.25" >14</text>
<line x1="603.95" y1="379.90" x2="603.95" y2="384.50" stroke="#161616" stroke-width="1.3"/>
<text x="603.95" y="394.40" font-size="8.0" font-weight="bold" text-anchor="middle" font-family='"Liberation Sans", sans-serif' fill="#0c0c0c" stroke="#0c0c0c" stroke-width="0.25" >15</text>
<rect x="436.10" y="285.40" width="11.19" height="28.60" fill="#d83a3a" stroke="#111" stroke-width="1.6"/>
<rect x="447.29" y="285.40" width="123.09" height="28.60" fill="#79ab63" stroke="#111" stroke-width="1.6"/>
<rect x="436.10" y="333.60" width="111.90" height="28.60" fill="#79ab63" stroke="#111" stroke-width="1.6"/>
<line x1="431.70" y1="299.90" x2="436.10" y2="299.90" stroke="#161616" stroke-width="1.3"/>
<text x="411.10" y="302.90" font-size="8.23045267489712" font-weight="bold" text-anchor="start" font-family='"Liberation Sans", sans-serif' fill="#0c0c0c" stroke="#0c0c0c" stroke-width="0.25" textLength="18.50" lengthAdjust="spacingAndGlyphs" >CCA</text>
<line x1="431.70" y1="347.90" x2="436.10" y2="347.90" stroke="#161616" stroke-width="1.3"/>
<text x="411.70" y="350.90" font-size="7.956104252400548" font-weight="bold" text-anchor="start" font-family='"Liberation Sans", sans-serif' fill="#0c0c0c" stroke="#0c0c0c" stroke-width="0.25" textLength="17.90" lengthAdjust="spacingAndGlyphs" >ECA</text>
<text x="498.60" y="232.90" font-size="10.150891632373115" font-weight="bold" text-anchor="start" font-family='"Liberation Sans", sans-serif' fill="#0c0c0c" stroke="#0c0c0c" stroke-width="0.25" textLength="43.30" lengthAdjust="spacingAndGlyphs" >Mortality</text>
<text x="496.50" y="406.30" font-size="7.681755829903977" font-weight="bold" text-anchor="start" font-family='"Liberation Sans", sans-serif' fill="#0c0c0c" stroke="#0c0c0c" stroke-width="0.25" textLength="47.50" lengthAdjust="spacingAndGlyphs" >Mice Number</text>
<rect x="235.70" y="272.20" width="12.00" height="6.40" fill="#c0302a" stroke="#111" stroke-width="1.4"/>
<text x="254.70" y="278.90" font-size="8.9" font-weight="normal" text-anchor="start" font-family='"Liberation Sans", sans-serif' fill="#0c0c0c" stroke="#0c0c0c" stroke-width="0.12" textLength="27.70" lengthAdjust="spacingAndGlyphs" >Failure</text>
<rect x="235.70" y="288.10" width="12.00" height="6.60" fill="#5e9ba2" stroke="#111" stroke-width="1.4"/>
<text x="254.70" y="294.80" font-size="8.9" font-weight="normal" text-anchor="start" font-family='"Liberation Sans", sans-serif' fill="#0c0c0c" stroke="#0c0c0c" stroke-width="0.12" textLength="34.30" lengthAdjust="spacingAndGlyphs" >Success</text>
<rect x="630.00" y="272.70" width="12.00" height="5.40" fill="#d83a3a" stroke="#111" stroke-width="1.4"/>
<text x="648.30" y="278.60" font-size="9.1" font-weight="normal" text-anchor="start" font-family='"Liberation Sans", sans-serif' fill="#0c0c0c" stroke="#0c0c0c" stroke-width="0.12" textLength="22.20" lengthAdjust="spacingAndGlyphs" >Dead</text>
<rect x="630.00" y="288.40" width="12.00" height="5.30" fill="#79ab63" stroke="#111" stroke-width="1.4"/>
<text x="648.30" y="294.20" font-size="9.1" font-weight="normal" text-anchor="start" font-family='"Liberation Sans", sans-serif' fill="#0c0c0c" stroke="#0c0c0c" stroke-width="0.12" textLength="34.70" lengthAdjust="spacingAndGlyphs" >Survivor</text>
<defs>
  <clipPath id="cB"><rect x="3" y="444" width="214" height="298"/></clipPath>
  <clipPath id="cC"><rect x="235" y="444" width="214" height="298"/></clipPath>
  <clipPath id="cD"><rect x="467" y="445" width="215" height="297"/></clipPath>
  <filter id="b1" x="-20%" y="-20%" width="140%" height="140%"><feGaussianBlur stdDeviation="1"/></filter>
  <filter id="b2" x="-20%" y="-20%" width="140%" height="140%"><feGaussianBlur stdDeviation="2"/></filter>
  <filter id="b4" x="-30%" y="-30%" width="160%" height="160%"><feGaussianBlur stdDeviation="4"/></filter>
  <filter id="b8" x="-50%" y="-50%" width="200%" height="200%"><feGaussianBlur stdDeviation="8"/></filter>
  <filter id="b14" x="-50%" y="-50%" width="200%" height="200%"><feGaussianBlur stdDeviation="14"/></filter>
  <radialGradient id="gBup" cx="0.5" cy="0.4" r="0.62">
    <stop offset="0" stop-color="#bcab8c"/><stop offset="0.6" stop-color="#b2a286"/><stop offset="1" stop-color="#9c8e7a"/>
  </radialGradient>
  <radialGradient id="gBlow" cx="0.5" cy="0.4" r="0.65">
    <stop offset="0" stop-color="#cec4c0"/><stop offset="0.7" stop-color="#c2b8b6"/><stop offset="1" stop-color="#aaa4ac"/>
  </radialGradient>
  <radialGradient id="gCbr" cx="0.5" cy="0.6" r="0.62">
    <stop offset="0" stop-color="#e48c58"/><stop offset="0.65" stop-color="#e08a56"/><stop offset="1" stop-color="#cc7c50"/>
  </radialGradient>
  <radialGradient id="gDbr" cx="0.55" cy="0.5" r="0.6">
    <stop offset="0" stop-color="#e6c4b0"/><stop offset="0.7" stop-color="#e2c4b0"/><stop offset="1" stop-color="#cdb4a4"/>
  </radialGradient>
  <pattern id="pC" x="235" y="444" width="10" height="12" patternUnits="userSpaceOnUse">
    <ellipse cx="5" cy="6" rx="2.4" ry="3.4" fill="#c8b898" opacity="0.6"/>
  </pattern>
  <pattern id="pB" x="3" y="444" width="9" height="9" patternUnits="userSpaceOnUse" patternTransform="rotate(20)">
    <ellipse cx="4.5" cy="4.5" rx="2.2" ry="1.5" fill="#6a78e0" opacity="0.45"/>
  </pattern>
</defs><!-- ============ PHOTO B ============ -->
<g clip-path="url(#cB)">
<rect x="3" y="444" width="214" height="298" fill="#2c33c0"/>
<rect x="3" y="444" width="214" height="298" fill="url(#pB)" filter="url(#b1)"/>
<path d="M3 600 Q10 640 40 680 L60 742 L3 742 Z" fill="#2228b0" opacity="0.5" filter="url(#b8)"/>
<path d="M148 742 Q170 706 196 680 Q212 660 217 640 L217 742 Z" fill="#6a78d8" filter="url(#b4)"/>
<path d="M204 742 Q212 705 217 684 L217 742 Z" fill="#b4bce6" filter="url(#b2)"/>
<path d="M112 444 L182 444 L217 474 L217 604 L210 566 Q198 500 160 460 Z" fill="#848470" filter="url(#b4)"/>
<g fill="none" stroke-linecap="round" filter="url(#b1)">
<path d="M140 446 Q186 470 210 542" stroke="#d6ce6c" stroke-width="2.5"/>
<path d="M160 446 Q196 472 216 522" stroke="#e0d878" stroke-width="2"/>
<path d="M176 478 Q200 512 212 572" stroke="#ccd4e0" stroke-width="2"/>
<path d="M186 452 Q206 470 217 492" stroke="#c0b860" stroke-width="3"/>
<path d="M202 560 Q211 592 214 632" stroke="#8890c8" stroke-width="3"/>
<path d="M120 446 Q150 452 172 462" stroke="#c8c070" stroke-width="2"/>
</g>
<path d="M184 444 L217 444 L217 476 Q206 456 184 444 Z" fill="#05060c" filter="url(#b1)"/>
<path d="M27 444 L58 444 Q38 449 27 461 Z" fill="#05060c" filter="url(#b1)"/>
<path d="M29 461 Q40 450 62 445" stroke="#c8c060" stroke-width="1.5" fill="none"/>
<path d="M217 724 L217 742 L194 742 Q207 736 217 724 Z" fill="#05060c" filter="url(#b1)"/>
<path d="M3 724 L3 742 L28 742 Q12 736 3 724 Z" fill="#05060c" filter="url(#b1)"/>
<path d="M3 694 Q25 712 48 742" stroke="#e4e8f8" stroke-width="3.5" fill="none" filter="url(#b1)"/>
<path d="M3 706 Q20 722 34 742" stroke="#9aa4e8" stroke-width="6" fill="none" opacity="0.7" filter="url(#b2)"/>
<path d="M158 742 Q178 712 200 690" stroke="#c0c6ee" stroke-width="2.5" fill="none" opacity="0.9" filter="url(#b1)"/>
<path d="M46.0 626.0 C36.7 631.5 28.8 629.3 24.0 633.0 C19.2 636.7 16.7 643.2 17.0 648.0 C17.3 652.8 20.5 658.2 26.0 662.0 C31.5 665.8 45.0 666.3 50.0 671.0 C55.0 675.7 54.5 683.2 56.0 690.0 C57.5 696.8 57.7 705.0 59.0 712.0 C60.3 719.0 61.8 726.7 64.0 732.0 C66.2 737.3 60.3 742.0 72.0 744.0 C83.7 746.0 123.8 747.7 134.0 744.0 C144.2 740.3 132.0 728.8 133.0 722.0 C134.0 715.2 136.2 708.3 140.0 703.0 C143.8 697.7 149.7 695.5 156.0 690.0 C162.3 684.5 171.3 676.7 178.0 670.0 C184.7 663.3 190.7 655.7 196.0 650.0 C201.3 644.3 206.8 640.7 210.0 636.0 C213.2 631.3 215.3 626.2 215.0 622.0 C214.7 617.8 212.8 614.0 208.0 611.0 C203.2 608.0 195.7 606.8 186.0 604.0 C176.3 601.2 162.7 596.3 150.0 594.0 C137.3 591.7 121.7 589.0 110.0 590.0 C98.3 591.0 90.7 594.0 80.0 600.0 C69.3 606.0 55.3 620.5 46.0 626.0 Z" fill="url(#gBlow)" filter="url(#b1)"/>
<ellipse cx="38" cy="648" rx="16" ry="12" fill="#c4bcc4" opacity="0.7" filter="url(#b2)"/>
<ellipse cx="195" cy="630" rx="16" ry="14" fill="#bcb6bc" opacity="0.6" filter="url(#b2)"/>
<ellipse cx="100" cy="690" rx="30" ry="40" fill="#d4cac6" opacity="0.6" filter="url(#b8)"/>
<path d="M100 610 Q98 660 104 740" stroke="#b8aaa8" stroke-width="2" fill="none" opacity="0.5" filter="url(#b2)"/>
<path d="M60.0 464.0 C69.0 459.8 81.5 455.5 94.0 454.0 C106.5 452.5 124.0 454.0 135.0 455.0 C146.0 456.0 153.8 458.2 160.0 460.0 C166.2 461.8 167.3 459.8 172.0 466.0 C176.7 472.2 183.0 486.7 188.0 497.0 C193.0 507.3 198.5 517.5 202.0 528.0 C205.5 538.5 207.5 549.7 209.0 560.0 C210.5 570.3 212.5 581.0 211.0 590.0 C209.5 599.0 206.5 611.7 200.0 614.0 C193.5 616.3 183.3 607.7 172.0 604.0 C160.7 600.3 144.0 594.0 132.0 592.0 C120.0 590.0 109.7 589.7 100.0 592.0 C90.3 594.3 83.0 600.2 74.0 606.0 C65.0 611.8 54.3 624.8 46.0 627.0 C37.7 629.2 30.0 624.2 24.0 619.0 C18.0 613.8 13.2 605.3 10.0 596.0 C6.8 586.7 4.3 574.3 5.0 563.0 C5.7 551.7 10.3 538.5 14.0 528.0 C17.7 517.5 22.7 508.2 27.0 500.0 C31.3 491.8 34.5 485.0 40.0 479.0 C45.5 473.0 51.0 468.2 60.0 464.0 Z" fill="url(#gBup)" filter="url(#b1)"/>
<ellipse cx="96" cy="474" rx="60" ry="16" fill="#b4aa94" opacity="0.6" filter="url(#b4)"/>
<ellipse cx="40" cy="560" rx="22" ry="40" fill="#a89c86" opacity="0.55" filter="url(#b8)"/>
<ellipse cx="128" cy="585" rx="70" ry="22" fill="#c8b4a8" opacity="0.55" filter="url(#b8)"/>
<ellipse cx="110" cy="558" rx="24" ry="24" fill="#9c8c76" opacity="0.45" filter="url(#b4)"/>
<circle cx="110" cy="560" r="26" fill="none" stroke="#c8b8a4" stroke-width="2" opacity="0.5" filter="url(#b1)"/>
<ellipse cx="106" cy="526" rx="10" ry="12" fill="#b2a890" opacity="0.6" filter="url(#b4)"/>
<ellipse cx="140" cy="505" rx="20" ry="18" fill="#a89a7c" opacity="0.3" filter="url(#b4)"/>
<ellipse cx="74" cy="505" rx="20" ry="18" fill="#a89a7c" opacity="0.3" filter="url(#b4)"/>
<ellipse cx="28" cy="560" rx="14" ry="50" fill="#b4a49c" opacity="0.5" filter="url(#b8)"/>
<g fill="none" stroke="#a07868" stroke-width="1" opacity="0.5" filter="url(#b1)">
<path d="M100 470 Q102 490 100 510"/><path d="M60 480 Q70 500 66 520"/><path d="M150 600 Q170 610 190 604"/>
</g>
<g fill="none" stroke="#f2eee6" stroke-width="0.9" stroke-dasharray="1.4 0.8" opacity="0.95">
<path d="M88 530 L96 534 L94 548 L88 562 L85 562 L84 548 Z"/>
<path d="M57 555 L64 548 L66 560 L60 572 L56 580 Z"/>
<path d="M128 518 L138 522 L142 534 L152 538 L162 548 L172 556 L178 563 L168 560 L158 552 L150 546 L140 540 L132 530 Z"/>
<path d="M68 530 L72 528 L74 538 L70 540 Z"/>
<path d="M69 602 Q80 588 100 584 Q118 582 126 584 Q118 590 100 591 Q84 594 72 608 Z"/>
<path d="M96 615 L110 612 L118 620 L125 618 L132 630 L125 636 L118 628 L110 632 L100 628 Z"/>
<path d="M72 640 L80 642 L84 656 L76 660 L72 650 Z"/>
<ellipse cx="44" cy="586" rx="4" ry="5"/><ellipse cx="86" cy="669" rx="5" ry="2.5"/>
<ellipse cx="104.5" cy="555" rx="2.6" ry="3.4"/><ellipse cx="112.5" cy="555" rx="2.4" ry="3.2"/>
</g>
</g>

<!-- ============ PHOTO C ============ -->
<g clip-path="url(#cC)">
<rect x="235" y="444" width="214" height="298" fill="#5a72a2"/>
<rect x="235" y="444" width="214" height="298" fill="url(#pC)" filter="url(#b1)"/>
<ellipse cx="250" cy="712" rx="40" ry="60" fill="#283048" opacity="0.6" filter="url(#b14)"/>
<ellipse cx="300" cy="742" rx="60" ry="14" fill="#303850" opacity="0.5" filter="url(#b8)"/>
<path d="M341.0 470.0 C346.0 470.2 352.2 470.2 357.0 472.0 C361.8 473.8 366.0 477.7 370.0 481.0 C374.0 484.3 377.2 488.0 381.0 492.0 C384.8 496.0 389.0 500.3 393.0 505.0 C397.0 509.7 400.8 514.2 405.0 520.0 C409.2 525.8 414.2 532.3 418.0 540.0 C421.8 547.7 425.7 556.3 428.0 566.0 C430.3 575.7 431.8 587.3 432.0 598.0 C432.2 608.7 430.7 619.7 429.0 630.0 C427.3 640.3 424.8 650.7 422.0 660.0 C419.2 669.3 416.2 678.0 412.0 686.0 C407.8 694.0 403.2 701.8 397.0 708.0 C390.8 714.2 382.8 719.7 375.0 723.0 C367.2 726.3 358.3 727.7 350.0 728.0 C341.7 728.3 332.7 727.0 325.0 725.0 C317.3 723.0 310.3 719.8 304.0 716.0 C297.7 712.2 291.7 707.3 287.0 702.0 C282.3 696.7 278.7 690.2 276.0 684.0 C273.3 677.8 272.7 670.5 271.0 665.0 C269.3 659.5 268.3 656.2 266.0 651.0 C263.7 645.8 259.5 640.5 257.0 634.0 C254.5 627.5 252.3 620.2 251.0 612.0 C249.7 603.8 248.8 594.2 249.0 585.0 C249.2 575.8 250.3 565.8 252.0 557.0 C253.7 548.2 256.0 539.8 259.0 532.0 C262.0 524.2 265.3 517.2 270.0 510.0 C274.7 502.8 280.5 494.7 287.0 489.0 C293.5 483.3 302.3 479.0 309.0 476.0 C315.7 473.0 321.7 472.0 327.0 471.0 C332.3 470.0 336.0 469.8 341.0 470.0 Z" fill="#3a4664" opacity="0.8" transform="translate(341 600) scale(1.075 1.05) translate(-341 -600)" filter="url(#b4)"/>
<path d="M341.0 470.0 C346.0 470.2 352.2 470.2 357.0 472.0 C361.8 473.8 366.0 477.7 370.0 481.0 C374.0 484.3 377.2 488.0 381.0 492.0 C384.8 496.0 389.0 500.3 393.0 505.0 C397.0 509.7 400.8 514.2 405.0 520.0 C409.2 525.8 414.2 532.3 418.0 540.0 C421.8 547.7 425.7 556.3 428.0 566.0 C430.3 575.7 431.8 587.3 432.0 598.0 C432.2 608.7 430.7 619.7 429.0 630.0 C427.3 640.3 424.8 650.7 422.0 660.0 C419.2 669.3 416.2 678.0 412.0 686.0 C407.8 694.0 403.2 701.8 397.0 708.0 C390.8 714.2 382.8 719.7 375.0 723.0 C367.2 726.3 358.3 727.7 350.0 728.0 C341.7 728.3 332.7 727.0 325.0 725.0 C317.3 723.0 310.3 719.8 304.0 716.0 C297.7 712.2 291.7 707.3 287.0 702.0 C282.3 696.7 278.7 690.2 276.0 684.0 C273.3 677.8 272.7 670.5 271.0 665.0 C269.3 659.5 268.3 656.2 266.0 651.0 C263.7 645.8 259.5 640.5 257.0 634.0 C254.5 627.5 252.3 620.2 251.0 612.0 C249.7 603.8 248.8 594.2 249.0 585.0 C249.2 575.8 250.3 565.8 252.0 557.0 C253.7 548.2 256.0 539.8 259.0 532.0 C262.0 524.2 265.3 517.2 270.0 510.0 C274.7 502.8 280.5 494.7 287.0 489.0 C293.5 483.3 302.3 479.0 309.0 476.0 C315.7 473.0 321.7 472.0 327.0 471.0 C332.3 470.0 336.0 469.8 341.0 470.0 Z" fill="url(#gCbr)" filter="url(#b1)"/>
<path d="M278 500 Q295 480 330 472 Q365 474 388 494 Q368 500 350 506 Q322 512 300 526 Q284 520 278 500 Z" fill="#c09078" opacity="0.75" filter="url(#b4)"/>
<ellipse cx="300" cy="505" rx="16" ry="14" fill="#a86a48" opacity="0.45" filter="url(#b4)"/>
<ellipse cx="292" cy="592" rx="28" ry="40" fill="#e49c6a" opacity="0.5" filter="url(#b8)"/>
<ellipse cx="398" cy="565" rx="22" ry="45" fill="#e8a070" opacity="0.55" filter="url(#b8)"/>
<ellipse cx="352" cy="670" rx="52" ry="42" fill="#f0a868" opacity="0.6" filter="url(#b8)"/>
<ellipse cx="290" cy="668" rx="14" ry="20" fill="#f0b890" opacity="0.7" filter="url(#b4)"/>
<ellipse cx="395" cy="660" rx="16" ry="22" fill="#f0b480" opacity="0.6" filter="url(#b4)"/>
<ellipse cx="352" cy="690" rx="18" ry="14" fill="#f4c090" opacity="0.6" filter="url(#b4)"/>
<ellipse cx="320" cy="655" rx="12" ry="10" fill="#f4c498" opacity="0.5" filter="url(#b4)"/>
<ellipse cx="346" cy="612" rx="30" ry="12" fill="#cc2222" opacity="0.8" filter="url(#b4)"/>
<ellipse cx="327" cy="560" rx="7" ry="38" fill="#cc2828" opacity="0.7" filter="url(#b2)"/>
<ellipse cx="300" cy="700" rx="14" ry="18" fill="#e04030" opacity="0.5" filter="url(#b4)"/>
<ellipse cx="345" cy="717" rx="28" ry="8" fill="#e03830" opacity="0.6" filter="url(#b4)"/>
<ellipse cx="380" cy="630" rx="14" ry="10" fill="#d83030" opacity="0.5" filter="url(#b4)"/>
<ellipse cx="330" cy="595" rx="10" ry="10" fill="#c02020" opacity="0.6" filter="url(#b2)"/>
<path d="M331.0 527.0 C334.2 521.5 339.5 521.8 344.0 523.0 C348.5 524.2 353.7 529.2 358.0 534.0 C362.3 538.8 367.3 545.2 370.0 552.0 C372.7 558.8 374.3 567.7 374.0 575.0 C373.7 582.3 371.7 590.8 368.0 596.0 C364.3 601.2 357.3 605.0 352.0 606.0 C346.7 607.0 340.3 605.7 336.0 602.0 C331.7 598.3 327.8 591.7 326.0 584.0 C324.2 576.3 324.2 565.5 325.0 556.0 C325.8 546.5 327.8 532.5 331.0 527.0 Z" fill="#eaae8c" opacity="0.95" filter="url(#b1)"/>
<ellipse cx="346" cy="548" rx="11" ry="16" fill="#f2c8ac" opacity="0.8" filter="url(#b2)"/>
<ellipse cx="352" cy="594" rx="18" ry="9" fill="#d85040" opacity="0.55" filter="url(#b2)"/>
<ellipse cx="328" cy="585" rx="5" ry="22" fill="#d02828" opacity="0.6" filter="url(#b2)"/>
<g fill="none" stroke="#cc2222" stroke-width="1.7" opacity="0.9" filter="url(#b1)">
<path d="M254 542 Q285 540 302 552 Q315 565 324 575"/>
<path d="M292 520 Q300 540 302 552"/>
<path d="M410 520 Q390 522 384 540 Q380 555 372 562 Q366 570 362 580"/>
<path d="M384 540 Q398 545 414 545"/>
<path d="M332 620 Q328 650 326 690 Q324 705 322 724"/>
<path d="M300 630 Q296 660 288 690"/>
<path d="M368 640 Q382 660 404 668"/>
<path d="M330 500 Q328 525 330 545"/>
<path d="M272 648 Q292 640 312 645"/>
<path d="M345 642 Q365 652 384 642"/>
<path d="M310 690 Q330 700 345 695"/>
<path d="M355 700 Q372 690 392 700"/>
<path d="M372 502 Q366 520 362 535"/>
<path d="M270 580 Q280 600 290 610"/>
<path d="M400 600 Q410 620 420 625"/>
</g>
<path d="M436 645 Q441 665 434 690" stroke="#fff8e0" stroke-width="4" fill="none" filter="url(#b1)"/>
<circle cx="306" cy="680" r="2" fill="#fff" filter="url(#b1)"/>
<circle cx="360" cy="556" r="2.2" fill="#fff" filter="url(#b1)"/>
<circle cx="340" cy="567" r="2" fill="#fff" filter="url(#b1)"/>
<circle cx="362" cy="536" r="1.8" fill="#fff" filter="url(#b1)"/>
<circle cx="380" cy="545" r="1.6" fill="#fff" filter="url(#b1)"/>
<circle cx="372" cy="552" r="1.4" fill="#fff" filter="url(#b1)"/>
<circle cx="345" cy="590" r="1.5" fill="#fff" filter="url(#b1)"/>
<circle cx="326" cy="640" r="1.5" fill="#fff" filter="url(#b1)"/>
<path d="M340 484 Q343 476 350 480" stroke="#302020" stroke-width="1.3" fill="none"/>
</g>

<!-- ============ PHOTO D ============ -->
<g clip-path="url(#cD)">
<rect x="467" y="445" width="215" height="297" fill="#2664aa"/>
<ellipse cx="640" cy="470" rx="60" ry="30" fill="#2a6ab0" opacity="0.6" filter="url(#b8)"/>
<path d="M467 530 L476 530 Q478 600 486 668 L467 672 Z" fill="#7ca6d6" opacity="0.95" filter="url(#b2)"/>
<path d="M467 672 L490 668 Q500 690 520 705 L467 700 Z" fill="#184a8c" opacity="0.8" filter="url(#b2)"/>
<path d="M476 650 Q488 700 530 728 Q565 742 610 738 Q645 728 668 700" stroke="#173e78" stroke-width="9" fill="none" opacity="0.8" filter="url(#b2)"/>
<path d="M480 690 Q505 722 548 738" stroke="#7494b8" stroke-width="8" fill="none" opacity="0.9" filter="url(#b2)"/>
<path d="M640 727 Q665 708 682 682" stroke="#c0e0ff" stroke-width="1.5" fill="none"/>
<path d="M655 715 Q672 690 680 660 L682 742 L620 742 Z" fill="#1f5aa0" opacity="0.6" filter="url(#b4)"/>
<path d="M500.0 506.0 C504.5 499.2 507.0 494.7 512.0 489.0 C517.0 483.3 523.0 476.7 530.0 472.0 C537.0 467.3 546.2 463.7 554.0 461.0 C561.8 458.3 568.8 457.0 577.0 456.0 C585.2 455.0 596.0 454.0 603.0 455.0 C610.0 456.0 613.5 457.8 619.0 462.0 C624.5 466.2 630.8 473.2 636.0 480.0 C641.2 486.8 645.5 495.3 650.0 503.0 C654.5 510.7 659.7 516.5 663.0 526.0 C666.3 535.5 668.7 549.3 670.0 560.0 C671.3 570.7 671.0 580.0 671.0 590.0 C671.0 600.0 670.5 610.0 670.0 620.0 C669.5 630.0 669.2 640.0 668.0 650.0 C666.8 660.0 665.2 671.7 663.0 680.0 C660.8 688.3 660.2 693.0 655.0 700.0 C649.8 707.0 641.2 716.7 632.0 722.0 C622.8 727.3 611.2 730.5 600.0 732.0 C588.8 733.5 575.0 732.3 565.0 731.0 C555.0 729.7 547.2 727.5 540.0 724.0 C532.8 720.5 527.3 715.0 522.0 710.0 C516.7 705.0 512.3 699.7 508.0 694.0 C503.7 688.3 499.5 681.8 496.0 676.0 C492.5 670.2 489.5 665.0 487.0 659.0 C484.5 653.0 482.5 647.3 481.0 640.0 C479.5 632.7 478.8 626.0 478.0 615.0 C477.2 604.0 474.8 588.2 476.0 574.0 C477.2 559.8 481.0 541.3 485.0 530.0 C489.0 518.7 495.5 512.8 500.0 506.0 Z" fill="#4f7cb4" opacity="0.45" transform="translate(574 592) scale(1.03) translate(-574 -592)" filter="url(#b2)"/>
<path d="M500.0 506.0 C504.5 499.2 507.0 494.7 512.0 489.0 C517.0 483.3 523.0 476.7 530.0 472.0 C537.0 467.3 546.2 463.7 554.0 461.0 C561.8 458.3 568.8 457.0 577.0 456.0 C585.2 455.0 596.0 454.0 603.0 455.0 C610.0 456.0 613.5 457.8 619.0 462.0 C624.5 466.2 630.8 473.2 636.0 480.0 C641.2 486.8 645.5 495.3 650.0 503.0 C654.5 510.7 659.7 516.5 663.0 526.0 C666.3 535.5 668.7 549.3 670.0 560.0 C671.3 570.7 671.0 580.0 671.0 590.0 C671.0 600.0 670.5 610.0 670.0 620.0 C669.5 630.0 669.2 640.0 668.0 650.0 C666.8 660.0 665.2 671.7 663.0 680.0 C660.8 688.3 660.2 693.0 655.0 700.0 C649.8 707.0 641.2 716.7 632.0 722.0 C622.8 727.3 611.2 730.5 600.0 732.0 C588.8 733.5 575.0 732.3 565.0 731.0 C555.0 729.7 547.2 727.5 540.0 724.0 C532.8 720.5 527.3 715.0 522.0 710.0 C516.7 705.0 512.3 699.7 508.0 694.0 C503.7 688.3 499.5 681.8 496.0 676.0 C492.5 670.2 489.5 665.0 487.0 659.0 C484.5 653.0 482.5 647.3 481.0 640.0 C479.5 632.7 478.8 626.0 478.0 615.0 C477.2 604.0 474.8 588.2 476.0 574.0 C477.2 559.8 481.0 541.3 485.0 530.0 C489.0 518.7 495.5 512.8 500.0 506.0 Z" fill="url(#gDbr)" filter="url(#b1)"/>
<ellipse cx="512" cy="590" rx="30" ry="70" fill="#e4bab4" opacity="0.75" filter="url(#b8)"/>
<ellipse cx="495" cy="600" rx="10" ry="40" fill="#f0dcdc" opacity="0.6" filter="url(#b4)"/>
<ellipse cx="636" cy="575" rx="26" ry="65" fill="#dccab0" opacity="0.8" filter="url(#b8)"/>
<ellipse cx="600" cy="490" rx="30" ry="22" fill="#e4dccc" opacity="0.8" filter="url(#b4)"/>
<ellipse cx="536" cy="500" rx="18" ry="22" fill="#ead8cc" opacity="0.7" filter="url(#b4)"/>
<ellipse cx="585" cy="672" rx="65" ry="52" fill="#f4e0d6" opacity="0.8" filter="url(#b8)"/>
<ellipse cx="630" cy="690" rx="25" ry="30" fill="#ecdcc0" opacity="0.6" filter="url(#b8)"/>
<ellipse cx="530" cy="700" rx="25" ry="22" fill="#d89090" opacity="0.45" filter="url(#b8)"/>
<ellipse cx="508" cy="640" rx="16" ry="24" fill="#ecd6d2" opacity="0.6" filter="url(#b4)"/>
<ellipse cx="580" cy="606" rx="40" ry="9" fill="#8a1c22" opacity="0.85" filter="url(#b4)"/>
<ellipse cx="550" cy="560" rx="7" ry="34" fill="#8a1c24" opacity="0.85" filter="url(#b2)"/>
<ellipse cx="572" cy="490" rx="5" ry="12" fill="#5a2420" opacity="0.8" filter="url(#b2)"/>
<ellipse cx="610" cy="570" rx="5" ry="25" fill="#9a3030" opacity="0.5" filter="url(#b2)"/>
<path d="M568.0 503.0 C572.8 501.3 579.7 507.5 585.0 512.0 C590.3 516.5 596.3 522.8 600.0 530.0 C603.7 537.2 606.3 546.7 607.0 555.0 C607.7 563.3 606.5 573.3 604.0 580.0 C601.5 586.7 596.8 592.0 592.0 595.0 C587.2 598.0 580.7 598.8 575.0 598.0 C569.3 597.2 562.3 594.7 558.0 590.0 C553.7 585.3 550.5 577.5 549.0 570.0 C547.5 562.5 547.8 553.0 549.0 545.0 C550.2 537.0 552.8 529.0 556.0 522.0 C559.2 515.0 563.2 504.7 568.0 503.0 Z" fill="#d8c8bc" filter="url(#b1)"/>
<ellipse cx="577" cy="540" rx="18" ry="22" fill="#e8e0d4" opacity="0.85" filter="url(#b4)"/>
<ellipse cx="577" cy="580" rx="25" ry="16" fill="#983434" opacity="0.8" filter="url(#b4)"/>
<ellipse cx="560" cy="565" rx="8" ry="14" fill="#a03838" opacity="0.6" filter="url(#b2)"/>
<ellipse cx="572" cy="712" rx="20" ry="10" fill="#b83840" opacity="0.6" filter="url(#b4)"/>
<ellipse cx="535" cy="640" rx="10" ry="22" fill="#d06868" opacity="0.45" filter="url(#b4)"/>
<ellipse cx="625" cy="640" rx="12" ry="18" fill="#d88080" opacity="0.35" filter="url(#b4)"/>
<g fill="none" stroke="#a82830" stroke-width="1.6" opacity="0.85" filter="url(#b1)">
<path d="M583 612 Q582 660 584 722"/>
<path d="M497 513 Q510 516 518 520 Q530 528 547 532"/>
<path d="M516 494 Q517 508 519 520"/>
<path d="M638 499 Q632 512 626 522 Q618 528 610 529"/>
<path d="M545 640 Q552 670 550 700"/>
<path d="M612 648 Q630 662 640 672"/>
<path d="M555 690 Q575 700 610 695"/>
<path d="M540 620 Q560 615 575 625"/>
<path d="M595 625 Q615 615 630 622"/>
<path d="M520 560 Q515 580 520 600"/>
<path d="M505 540 Q500 560 505 575"/>
</g>
<circle cx="632" cy="676" r="3.5" fill="#a02828" filter="url(#b1)"/>
<path d="M590 468 Q592 462 597 465 Q598 470 594 470" stroke="#201818" stroke-width="1.3" fill="none"/>
<g stroke="#fff4e0" stroke-width="1.6" fill="none" opacity="0.9" filter="url(#b1)">
<path d="M601 550 Q605 560 602 572"/><path d="M533 567 Q531 585 529 597"/><path d="M655 575 Q658 590 656 605"/><path d="M628 565 Q632 580 630 592"/>
</g>
<path d="M552 545 Q555 555 552 568" stroke="#e8c8e8" stroke-width="2.5" fill="none" opacity="0.8" filter="url(#b1)"/>
</g>

<!-- labels -->
<rect x="3" y="444" width="24" height="31.5" fill="#fff"/>
<rect x="235" y="444" width="27" height="31.5" fill="#fff"/>
<rect x="467" y="445" width="25" height="30.5" fill="#fff"/>
<text x="3.2" y="467.3" font-size="23.4" font-family='"Liberation Sans", sans-serif' fill="#000">B</text>
<text x="236.6" y="467.3" font-size="23.4" font-family='"Liberation Sans", sans-serif' fill="#000">C</text>
<text x="467.6" y="467.3" font-size="23.4" font-family='"Liberation Sans", sans-serif' fill="#000">D</text>

</svg></body></html>
